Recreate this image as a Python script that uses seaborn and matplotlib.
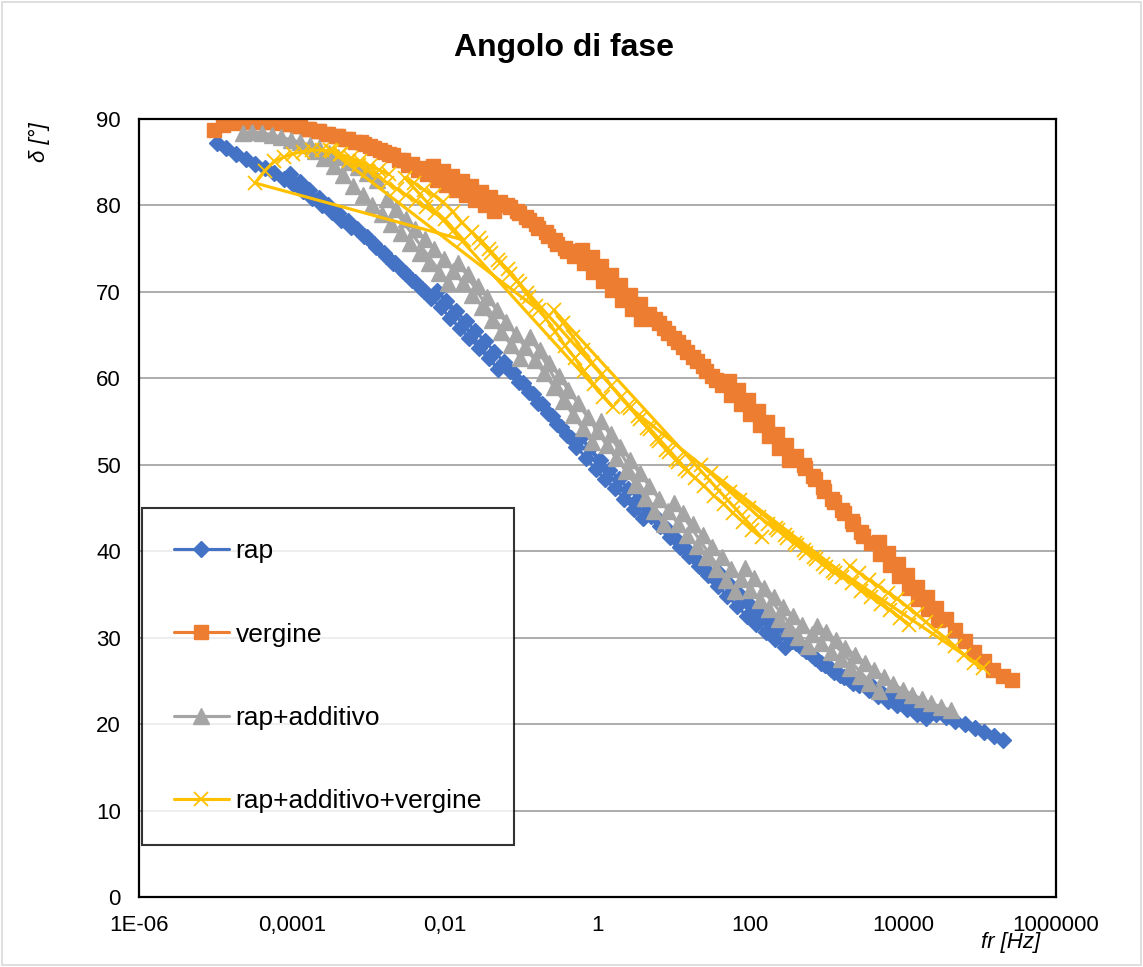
import numpy as np
import pandas as pd
import matplotlib
matplotlib.use("Agg")
import matplotlib.pyplot as plt
from matplotlib.patches import Rectangle
from matplotlib.ticker import NullLocator
import seaborn as sns

# ------------------------------------------
# Data: frequency sweeps (Hz) shifted by log10(aT) per isotherm
# ------------------------------------------
f_test = [0.1, 0.133, 0.178, 0.237, 0.316, 0.422, 0.562, 0.750,
          1.0, 1.33, 1.78, 2.37, 3.16, 4.22, 5.62]

rap_shift = [-3.98, -3.02, -2.05, -1.1, -0.15, 0.78, 1.7, 2.6, 3.55, 4.56]
rap_delta = [
    [87.2, 86.6, 86.0, 85.4, 84.8, 84.3, 83.7, 83.1, 82.5, 81.7, 80.9, 80.1, 79.2, 78.3, 77.5],
    [83.6, 82.7, 81.8, 80.9, 80.0, 79.1, 78.2, 77.3, 76.3, 75.2, 74.2, 73.3, 72.2, 71.1, 70.1],
    [76.5, 75.5, 74.5, 73.4, 72.4, 71.4, 70.3, 69.3, 68.2, 67.0, 65.8, 64.7, 63.5, 62.3, 61.1],
    [70.1, 69.0, 67.8, 66.6, 65.5, 64.3, 63.1, 61.9, 60.7, 59.5, 58.2, 57.0, 55.7, 54.4, 53.1],
    [60.9, 59.6, 58.4, 57.2, 56.0, 54.7, 53.4, 52.1, 50.8, 49.5, 48.3, 47.3, 46.1, 44.9, 43.8],
    [53.2, 51.9, 50.6, 49.4, 48.4, 47.2, 46.1, 44.9, 43.8, 42.6, 41.4, 40.3, 39.2, 38.0, 36.9],
    [44.1, 42.9, 41.7, 40.5, 39.5, 38.3, 37.2, 36.0, 34.8, 33.7, 32.5, 31.6, 30.7, 29.8, 28.9],
    [37.4, 36.2, 35.1, 34.0, 33.0, 32.1, 31.2, 30.3, 29.4, 28.5, 27.6, 26.8, 26.0, 25.4, 24.8],
    [29.6, 28.8, 28.0, 27.1, 26.4, 25.7, 25.1, 24.5, 23.9, 23.3, 22.7, 22.2, 21.7, 21.2, 20.7],
    [24.6, 24.0, 23.5, 22.9, 22.4, 22.0, 21.6, 21.2, 20.8, 20.4, 20.0, 19.5, 19.1, 18.6, 18.2],
]

vergine_shift = [-4.02, -3.05, -2.1, -1.15, -0.18, 0.8, 1.75, 2.72, 3.7, 4.68]
vergine_delta = [
    [88.7, 89.3, 89.5, 89.6, 89.6, 89.6, 89.6, 89.5, 89.4, 89.2, 88.9, 88.6, 88.3, 88.0, 87.7],
    [89.4, 89.2, 88.9, 88.6, 88.3, 88.0, 87.7, 87.4, 87.1, 86.7, 86.2, 85.8, 85.3, 84.8, 84.3],
    [87.4, 86.9, 86.4, 85.9, 85.3, 84.7, 84.1, 83.6, 83.0, 82.4, 81.8, 81.2, 80.6, 80.0, 79.4],
    [84.6, 84.0, 83.4, 82.8, 82.2, 81.6, 81.0, 80.4, 79.8, 79.1, 78.3, 77.4, 76.5, 75.6, 74.7],
    [80.1, 79.4, 78.7, 77.8, 76.9, 76.0, 75.1, 74.2, 73.3, 72.3, 71.3, 70.2, 69.1, 68.0, 66.9],
    [74.9, 74.0, 73.0, 71.9, 70.8, 69.7, 68.6, 67.5, 66.4, 65.3, 64.2, 63.1, 62.0, 60.9, 59.8],
    [66.9, 65.8, 64.7, 63.6, 62.5, 61.4, 60.3, 59.2, 58.1, 57.0, 55.9, 54.6, 53.3, 52.0, 50.6],
    [59.7, 58.6, 57.5, 56.2, 54.9, 53.6, 52.3, 51.0, 49.6, 48.3, 47.0, 45.7, 44.4, 43.1, 41.8],
    [50.0, 48.7, 47.4, 46.1, 44.8, 43.5, 42.2, 41.0, 39.7, 38.4, 37.1, 35.8, 34.5, 33.3, 32.0],
    [41.1, 39.8, 38.5, 37.2, 35.9, 34.7, 33.4, 32.2, 30.9, 29.6, 28.4, 27.3, 26.3, 25.6, 25.1],
]

additivo_shift = [-3.64, -2.7, -1.76, -0.82, 0.12, 1.05, 2.0, 2.93, 3.87]
additivo_delta = [
    [88.4, 88.5, 88.4, 88.2, 87.9, 87.6, 87.3, 87.0, 86.6, 86.1, 85.6, 85.0, 84.4, 83.7, 83.0],
    [86.3, 85.5, 84.6, 83.5, 82.3, 81.2, 80.1, 79.0, 77.9, 76.8, 75.7, 74.5, 73.3, 72.2, 71.0],
    [80.7, 79.6, 78.4, 77.3, 76.1, 75.0, 73.8, 72.4, 71.0, 69.7, 68.3, 66.8, 65.4, 63.9, 62.4],
    [73.4, 72.1, 70.7, 69.4, 67.9, 66.5, 65.1, 63.6, 62.1, 60.6, 59.0, 57.4, 55.8, 54.2, 52.6],
    [64.8, 63.3, 61.8, 60.3, 58.6, 57.1, 55.5, 53.9, 52.3, 50.8, 49.3, 47.7, 46.2, 44.7, 43.1],
    [55.1, 53.6, 52.1, 50.6, 49.0, 47.6, 46.1, 44.7, 43.2, 41.9, 40.6, 39.3, 38.0, 36.7, 35.4],
    [45.6, 44.4, 43.1, 41.9, 40.5, 39.3, 38.0, 36.8, 35.5, 34.4, 33.3, 32.2, 31.1, 30.1, 29.0],
    [38.1, 36.9, 35.8, 34.7, 33.6, 32.5, 31.5, 30.4, 29.4, 28.4, 27.5, 26.5, 25.6, 24.7, 23.8],
    [31.4, 30.6, 29.7, 28.8, 28.0, 27.1, 26.3, 25.4, 24.6, 24.0, 23.4, 22.9, 22.4, 22.0, 21.6],
]

# this one was recorded from the cold isotherm down to the hot one
mix_shift = [4.30, 3.33, 2.36, 1.4, 0.43, -0.55, -1.52, -2.5, -3.48]
mix_delta = [
    [38.3, 37.5, 36.7, 36.0, 35.2, 34.5, 33.6, 32.7, 31.8, 30.8, 30.0, 29.0, 28.0, 27.1, 26.5],
    [42.7, 41.9, 41.0, 40.2, 39.3, 38.5, 37.7, 37.0, 36.3, 35.4, 34.7, 33.9, 33.2, 32.3, 31.5],
    [50.0, 49.0, 47.9, 46.9, 45.9, 45.0, 44.0, 43.2, 42.4, 41.5, 40.7, 39.8, 39.1, 38.2, 37.5],
    [56.8, 55.6, 54.3, 53.0, 51.7, 50.6, 49.5, 48.5, 47.5, 46.4, 45.5, 44.4, 43.4, 42.4, 41.6],
    [67.9, 66.4, 64.8, 63.3, 61.8, 60.5, 59.1, 57.8, 56.6, 55.3, 54.1, 52.7, 51.5, 50.3, 49.3],
    [76.2, 75.0, 73.7, 72.6, 71.3, 69.9, 68.4, 66.9, 65.4, 63.8, 62.4, 60.8, 59.3, 57.9, 56.7],
    [83.2, 82.6, 81.8, 81.2, 80.4, 79.3, 78.0, 76.9, 75.7, 74.5, 73.3, 72.1, 70.9, 69.4, 67.9],
    [86.4, 85.9, 85.2, 84.7, 84.0, 83.4, 82.6, 81.9, 81.2, 80.5, 79.8, 79.1, 78.4, 77.2, 76.0],
    [82.6, 84.0, 85.1, 85.6, 86.0, 86.2, 86.4, 86.4, 86.3, 85.9, 85.5, 85.1, 84.6, 84.1, 83.6],
]

series_names = ["rap", "vergine", "rap+additivo", "rap+additivo+vergine"]
x_ticks = [1e-6, 1e-4, 1e-2, 1, 1e2, 1e4, 1e6]
x_tick_labels = ["1E-06", "0,0001", "0,01", "1", "100", "10000", "1000000"]
y_ticks = [0, 10, 20, 30, 40, 50, 60, 70, 80, 90]


def build(shifts, deltas):
    fr, d = [], []
    for s, vals in zip(shifts, deltas):
        for f, v in zip(f_test, vals):
            fr.append(f * 10 ** s)
            d.append(v)
    return pd.DataFrame({"fr": fr, "delta": d})


frames = [build(rap_shift, rap_delta), build(vergine_shift, vergine_delta),
          build(additivo_shift, additivo_delta), build(mix_shift, mix_delta)]

styles = [
    dict(color="#4472C4", marker="D", markersize=8.5, markeredgewidth=1),
    dict(color="#ED7D31", marker="s", markersize=10.5, markeredgewidth=1),
    dict(color="#A5A5A5", marker="^", markersize=11.5, markeredgewidth=1),
    dict(color="#FFC000", marker="x", markersize=10, markeredgewidth=1.3),
]

# ------------------------------------------
# Plot
# ------------------------------------------
sns.set_theme(style="white")
plt.rcParams["font.family"] = ["Liberation Sans", "DejaVu Sans"]
plt.rcParams["text.color"] = "black"
plt.rcParams["axes.labelcolor"] = "black"

fig = plt.figure(figsize=(11.43, 9.67), dpi=100)
ax = fig.add_axes([0.1216, 0.0724, 0.8023, 0.8045])

for name, df, st in zip(series_names, frames, styles):
    sns.lineplot(data=df, x="fr", y="delta", sort=False, estimator=None,
                 color=st["color"], marker=st["marker"],
                 markersize=st["markersize"], markeredgecolor=st["color"],
                 markerfacecolor=st["color"],
                 markeredgewidth=st["markeredgewidth"],
                 linewidth=2.25, label=name, ax=ax)

ax.set_xscale("log")
ax.set_xlim(1e-6, 1e6)
ax.set_ylim(0, 90)
ax.set_xticks(x_ticks, x_tick_labels)
ax.xaxis.set_minor_locator(NullLocator())
ax.set_yticks(y_ticks)
ax.tick_params(axis="both", labelsize=16, direction="out", length=4,
               width=1, color="#595959", pad=9, labelcolor="black")
ax.yaxis.grid(True, color="#A6A6A6", linewidth=1.3)
ax.xaxis.grid(False)
ax.set_axisbelow(True)
for sp in ax.spines.values():
    sp.set_color("black")
    sp.set_linewidth(1.6)

ax.set_xlabel("fr [Hz]", fontsize=16, style="italic")
ax.xaxis.set_label_coords(0.95, -0.045)
ax.set_ylabel("δ [°]", fontsize=16, style="italic")
ax.yaxis.set_label_coords(-0.097, 0.97)

fig.text(0.4934, 1 - 48 / 967, "Angolo di fase", ha="center", va="center",
         fontsize=23, fontweight="bold", color="black")

leg = ax.legend(loc="lower left", bbox_to_anchor=(0.0033, 0.0668),
                fontsize=19, frameon=True, fancybox=False, numpoints=1,
                labelspacing=2.25, borderpad=1.2, handlelength=2.1,
                handletextpad=0.25, borderaxespad=0)
leg.get_frame().set_edgecolor("black")
leg.get_frame().set_linewidth(1.5)
for t in leg.get_texts():
    t.set_color("black")

fig.patches.append(Rectangle((0.002, 0.002), 0.996, 0.996, transform=fig.transFigure,
                             fill=False, edgecolor="#D9D9D9", linewidth=1.2))

fig.savefig("out.png", dpi=100)
